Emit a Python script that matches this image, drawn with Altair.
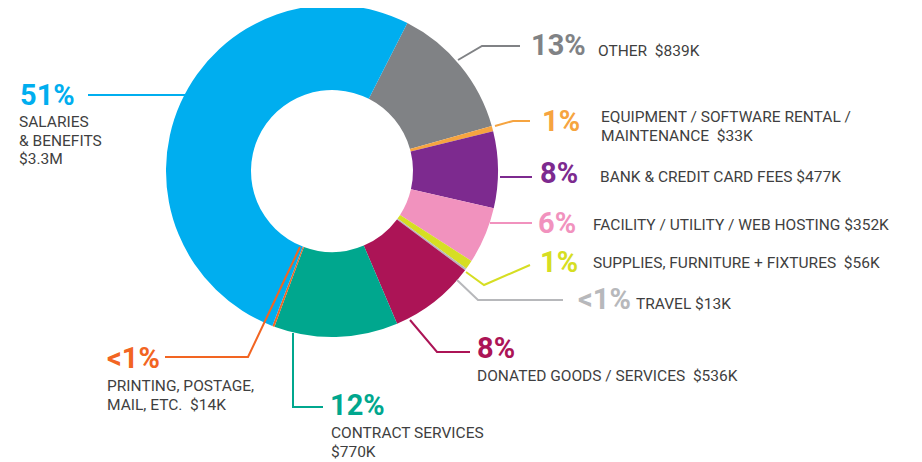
import math
import altair as alt
import pandas as pd

# ---------------- data ----------------
categories = [
    "Other",
    "Equipment / Software Rental / Maintenance",
    "Bank & Credit Card Fees",
    "Facility / Utility / Web Hosting",
    "Supplies, Furniture + Fixtures",
    "Travel",
    "Donated Goods / Services",
    "Contract Services",
    "Printing, Postage, Mail, Etc.",
    "Salaries & Benefits",
]
amounts_k = [839, 33, 477, 352, 56, 13, 536, 770, 14, 3300]
pct_labels = ["13%", "1%", "8%", "6%", "1%", "<1%", "8%", "12%", "<1%", "51%"]
SP2 = "\u00a0 "
desc_labels = [
    "OTHER" + SP2 + "$839K",
    "EQUIPMENT / SOFTWARE RENTAL /\nMAINTENANCE" + SP2 + "$33K",
    "BANK & CREDIT CARD FEES $477K",
    "FACILITY / UTILITY / WEB HOSTING $352K",
    "SUPPLIES, FURNITURE + FIXTURES" + SP2 + "$56K",
    "TRAVEL $13K",
    "DONATED GOODS / SERVICES" + SP2 + "$536K",
    "CONTRACT SERVICES\n$770K",
    "PRINTING, POSTAGE,\nMAIL, ETC." + SP2 + "$14K",
    "SALARIES\n& BENEFITS\n$3.3M",
]
colors = ["#808285", "#F6A440", "#7D2A8F", "#F192BE", "#D6DE23",
          "#B7B8BB", "#AC1456", "#00A78E", "#F26522", "#00AEEF"]

# ---------------- layout (annotation placement, page pixels) ----------------
CX, CY = 332, 171          # donut centre
R_OUT, R_IN = 166, 81
START_DEG = 27.0
pct_pos = [(531, 55), (542, 131), (540, 183), (538, 233), (540, 272),
           (578, 309), (477, 358), (330, 415), (107, 368), (20, 105)]
desc_pos = [(598, 56), (601, 122), (600, 182), (593, 230), (593, 268),
            (636, 309), (477, 381), (331, 438), (107, 391), (19, 127)]
leaders = [
    [(458, 60), (482, 46), (520, 46)],
    [(495, 126), (513, 121), (530, 121)],
    [(500, 177), (532, 177)],
    [(490, 223), (532, 223)],
    [(466, 272), (484, 285), (530, 265)],
    [(457, 280), (478, 300), (563, 300)],
    [(410, 320), (437, 352), (470, 352)],
    [(293, 333), (293, 407), (323, 407)],
    [(300, 247), (248, 357), (165, 357)],
    [(187, 95), (88, 95)],
]

W, H = 906, 454
xs = alt.Scale(domain=[8, 8 + W], nice=False, zero=False)
ys = alt.Scale(domain=[8, 8 + H], nice=False, zero=False, reverse=True)
cscale = alt.Scale(domain=categories, range=colors)

slices = pd.DataFrame({"cat": categories, "amt": amounts_k, "idx": range(len(categories))})
labels = pd.DataFrame({
    "cat": categories,
    "pct": pct_labels,
    "desc": desc_labels,
    "px": [p[0] for p in pct_pos], "py": [p[1] for p in pct_pos],
    "dx": [p[0] for p in desc_pos], "dy": [p[1] for p in desc_pos],
})
rows = []
for c, pts in zip(categories, leaders):
    for i, (x, y) in enumerate(pts):
        rows.append({"cat": c, "seq": i, "x": x, "y": y})
lines = pd.DataFrame(rows)

a0 = math.radians(START_DEG)
donut = alt.Chart(slices).mark_arc(outerRadius=R_OUT, innerRadius=R_IN).encode(
    theta=alt.Theta("amt:Q", stack=True, scale=alt.Scale(range=[a0, a0 + 2 * math.pi])),
    order=alt.Order("idx:Q"),
    color=alt.Color("cat:N", scale=cscale, legend=None),
    x=alt.value(CX - 8),
    y=alt.value(CY - 8),
)

leader = alt.Chart(lines).mark_line(strokeWidth=2).encode(
    x=alt.X("x:Q", scale=xs, axis=None),
    y=alt.Y("y:Q", scale=ys, axis=None),
    color=alt.Color("cat:N", scale=cscale, legend=None),
    detail="cat:N",
    order="seq:Q",
)

pct = alt.Chart(labels).mark_text(
    align="left", baseline="alphabetic", font="Roboto", fontWeight="bold", fontSize=29
).encode(
    x=alt.X("px:Q", scale=xs, axis=None),
    y=alt.Y("py:Q", scale=ys, axis=None),
    text="pct:N",
    color=alt.Color("cat:N", scale=cscale, legend=None),
)

desc = alt.Chart(labels).mark_text(
    align="left", baseline="alphabetic", font="Roboto", fontSize=15.5,
    lineBreak="\n", lineHeight=18.5, color="#3F3F41"
).encode(
    x=alt.X("dx:Q", scale=xs, axis=None),
    y=alt.Y("dy:Q", scale=ys, axis=None),
    text="desc:N",
)

chart = alt.layer(donut, leader, pct, desc).properties(
    width=W, height=H, padding=0, autosize="none"
).configure_view(stroke=None)

chart.save("out.html", embed_options={"renderer": "svg", "actions": False})
